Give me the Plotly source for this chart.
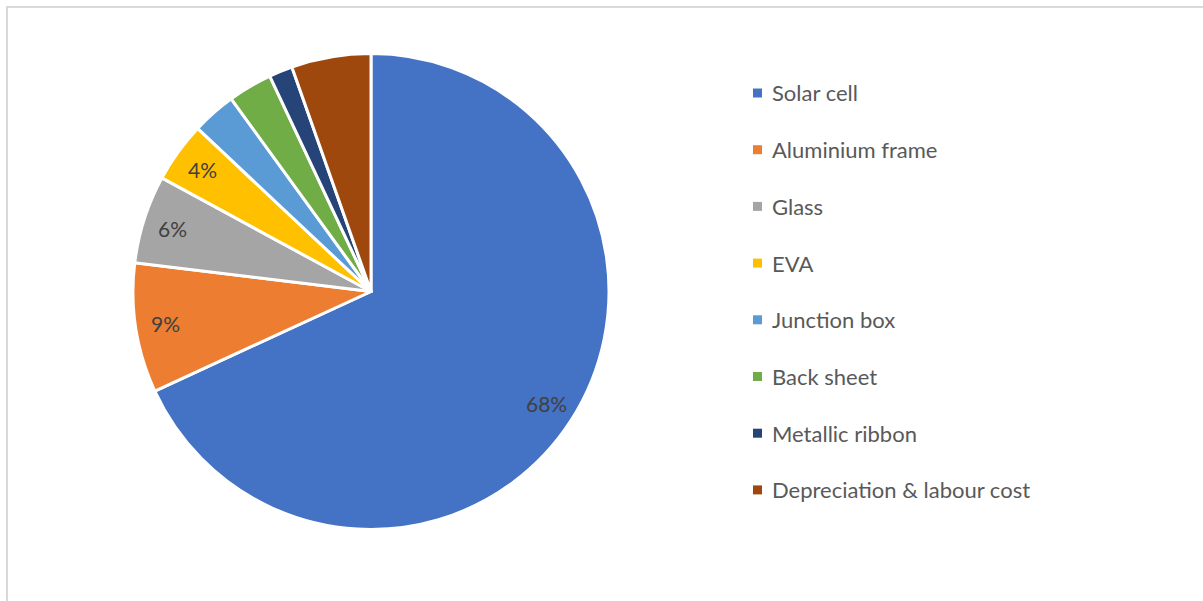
import math
import plotly.graph_objects as go

# Module cost breakdown (share of total cost, %)
components = ["Solar cell", "Aluminium frame", "Glass", "EVA", "Junction box",
              "Back sheet", "Metallic ribbon", "Depreciation & labour cost"]
shares = [68.2, 8.8, 6.0, 4.1, 3.0, 3.0, 1.6, 5.4]
colors = ["#4472C4", "#ED7D31", "#A5A5A5", "#FFC000", "#5B9BD5",
          "#70AD47", "#264478", "#9E480E"]
# only the larger slices carry a percentage label
show_label = [True, True, True, True, False, False, False, False]

W, H = 1203, 601
cx, cy, r = 371, 291.5, 238

fig = go.Figure()
fig.add_trace(go.Pie(
    labels=components,
    values=shares,
    sort=False,
    direction="clockwise",
    rotation=0,
    marker=dict(colors=colors, line=dict(color="white", width=3)),
    textinfo="none",
    showlegend=False,
    hoverinfo="label+percent",
    domain=dict(x=[(cx - r) / W, (cx + r) / W],
                y=[1 - (cy + r) / H, 1 - (cy - r) / H]),
))

annotations = []

# percentage labels placed along each slice's bisector
total = sum(shares)
acc = 0.0
for val, show in zip(shares, show_label):
    mid = (acc + val / 2) / total * 2 * math.pi
    acc += val
    if not show:
        continue
    rr = 0.875 * r
    px = cx + rr * math.sin(mid)
    py = cy - rr * math.cos(mid)
    annotations.append(dict(xref="paper", yref="paper", x=px / W, y=1 - py / H,
                            xanchor="center", yanchor="middle", showarrow=False,
                            text=f"{round(val / total * 100)}%",
                            font=dict(family="Lato", size=21, color="#404040")))

# legend drawn as a column of swatches and labels
shapes = [dict(type="rect", xref="paper", yref="paper",
               x0=7 / W, x1=1.01, y0=-0.01, y1=1 - 7 / H,
               line=dict(color="#D9D9D9", width=2), fillcolor="rgba(0,0,0,0)")]
y0, step = 93, 56.7
for i, (name, col) in enumerate(zip(components, colors)):
    yc = y0 + i * step
    shapes.append(dict(type="rect", xref="paper", yref="paper",
                       x0=753 / W, x1=762 / W,
                       y0=1 - (yc + 4.5) / H, y1=1 - (yc - 4.5) / H,
                       line=dict(width=0), fillcolor=col))
    annotations.append(dict(xref="paper", yref="paper", x=770 / W, y=1 - yc / H,
                            xanchor="left", yanchor="middle", showarrow=False,
                            text=name,
                            font=dict(family="Lato", size=22, color="#595959")))

fig.update_layout(
    width=W, height=H,
    margin=dict(l=0, r=0, t=0, b=0),
    paper_bgcolor="white",
    plot_bgcolor="white",
    shapes=shapes,
    annotations=annotations,
)

fig.write_html("out.html")
